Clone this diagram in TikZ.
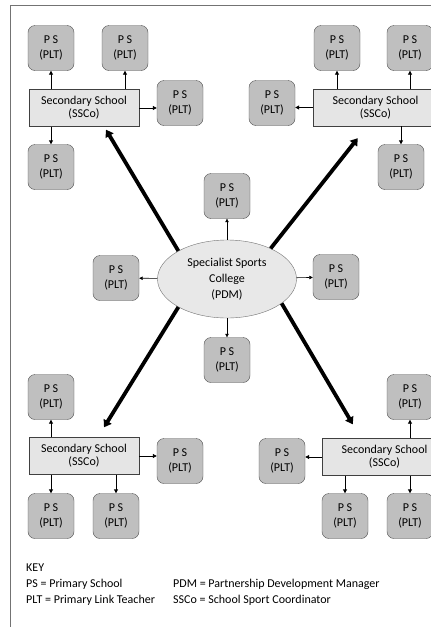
\documentclass[tikz,border=0pt]{standalone}
\usepackage{fontspec}
\setmainfont{Carlito}
\usetikzlibrary{arrows.meta,shapes.geometric}
\tikzset{
  psbox/.style={draw=black!70, fill=black!25, rounded corners=7pt, minimum width=46pt,
    minimum height=45pt, inner sep=0pt, align=center, font=\fontsize{12}{15}\selectfont},
  ssbox/.style={draw=black!75, fill=black!10, minimum width=110pt, minimum height=37pt,
    inner sep=0pt, align=center, font=\fontsize{12}{13}\selectfont},
  college/.style={ellipse, draw=black!55, fill=black!9, minimum width=139pt, minimum height=78pt,
    inner sep=0pt, align=center, font=\fontsize{12}{16}\selectfont},
  link/.style={-{Triangle[length=4pt,width=4pt]}, line width=0.9pt},
  thinlink/.style={-{Triangle[length=3.5pt,width=3.5pt]}, line width=0.6pt},
  bigarrow/.style={-{Triangle[length=7pt,width=9pt]}, line width=3.8pt},
  keytext/.style={anchor=base west, inner sep=0pt, font=\fontsize{12}{14}\selectfont}
}
\begin{document}
\begin{tikzpicture}[x=1pt,y=-1pt]
    \useasboundingbox (0,0) rectangle (431,627);
    \draw[black!55, line width=0.8pt] (10,640) -- (10,5.5) -- (445,5.5);

    \node[college] (pdm) at (227,279) {Specialist Sports\\College\\(PDM)};
    \node[psbox] (psC1) at (227,196) {P S\\(PLT)};
    \node[psbox] (psC2) at (116,278) {P S\\(PLT)};
    \node[psbox] (psC3) at (336,277) {P S\\(PLT)};
    \node[psbox] (psC4) at (227,360) {P S\\(PLT)};
    \draw[thinlink] (pdm) -- (psC1);
    \draw[thinlink] (pdm) -- (psC2);
    \draw[thinlink] (pdm) -- (psC3);
    \draw[thinlink] (pdm) -- (psC4);

    \node[ssbox] (ssA) at (84,108) {Secondary School\\(SSCo)};
    \node[psbox] (psA1) at (51,48) {P S\\(PLT)};
    \node[psbox] (psA2) at (125,48) {P S\\(PLT)};
    \node[psbox] (psA3) at (180,103) {P S\\(PLT)};
    \node[psbox] (psA4) at (51,167) {P S\\(PLT)};
    \draw[link] (ssA.north -| psA1) -- (psA1.south);
    \draw[link] (ssA.north -| psA2) -- (psA2.south);
    \draw[link] (ssA.east) -- (ssA.east -| psA3.west);
    \draw[link] (ssA.south -| psA4) -- (psA4.north);

    \node[ssbox, minimum width=125pt] (ssB) at (375.5,107.5) {Secondary School\\(SSCo)};
    \node[psbox] (psB1) at (337,48) {P S\\(PLT)};
    \node[psbox] (psB2) at (410,48) {P S\\(PLT)};
    \node[psbox] (psB3) at (272,103) {P S\\(PLT)};
    \node[psbox] (psB4) at (401,167) {P S\\(PLT)};
    \draw[link] (ssB.north -| psB1) -- (psB1.south);
    \draw[link] (ssB.north -| psB2) -- (psB2.south);
    \draw[link] (ssB.west) -- (ssB.west -| psB3.east);
    \draw[link] (ssB.south -| psB4) -- (psB4.north);

    \node[ssbox] (ssD) at (84,456) {Secondary School\\(SSCo)};
    \node[psbox] (psD1) at (51,397) {P S\\(PLT)};
    \node[psbox] (psD2) at (180,461) {P S\\(PLT)};
    \node[psbox] (psD3) at (51,516) {P S\\(PLT)};
    \node[psbox] (psD4) at (116,516) {P S\\(PLT)};
    \draw[link] (ssD.north -| psD1) -- (psD1.south);
    \draw[link] (ssD.east) -- (ssD.east -| psD2.west);
    \draw[link] (ssD.south -| psD3) -- (psD3.north);
    \draw[link] (ssD.south -| psD4) -- (psD4.north);

    \node[ssbox, minimum width=125pt] (ssE) at (384.5,457) {Secondary School\\(SSCo)};
    \node[psbox] (psE1) at (410,397) {P S\\(PLT)};
    \node[psbox] (psE2) at (282,461) {P S\\(PLT)};
    \node[psbox] (psE3) at (345,516) {P S\\(PLT)};
    \node[psbox] (psE4) at (410,516) {P S\\(PLT)};
    \draw[link] (ssE.north -| psE1) -- (psE1.south);
    \draw[link] (ssE.west) -- (ssE.west -| psE2.east);
    \draw[link] (ssE.south -| psE3) -- (psE3.north);
    \draw[link] (ssE.south -| psE4) -- (psE4.north);

    \draw[bigarrow] (pdm.150) -- ([shift={(22pt,-3pt)}]ssA.south);
    \draw[bigarrow] (pdm.35) -- ([shift={(45pt,-12pt)}]ssB.south west);
    \draw[bigarrow] (pdm.210) -- ([shift={(20pt,10pt)}]ssD.north);
    \draw[bigarrow] (pdm.-24) -- ([shift={(31pt,14pt)}]ssE.north west);

    \node[keytext] (keyhead) at (26,571) {KEY};
    \node[keytext] (keyps) at (26,587) {PS = Primary School};
    \node[keytext] (keyplt) at (26,603) {PLT = Primary Link Teacher};
    \node[keytext] (keypdm) at (173,587) {PDM = Partnership Development Manager};
    \node[keytext] (keyssco) at (173,603) {SSCo = School Sport Coordinator};
  \end{tikzpicture}
\end{document}
